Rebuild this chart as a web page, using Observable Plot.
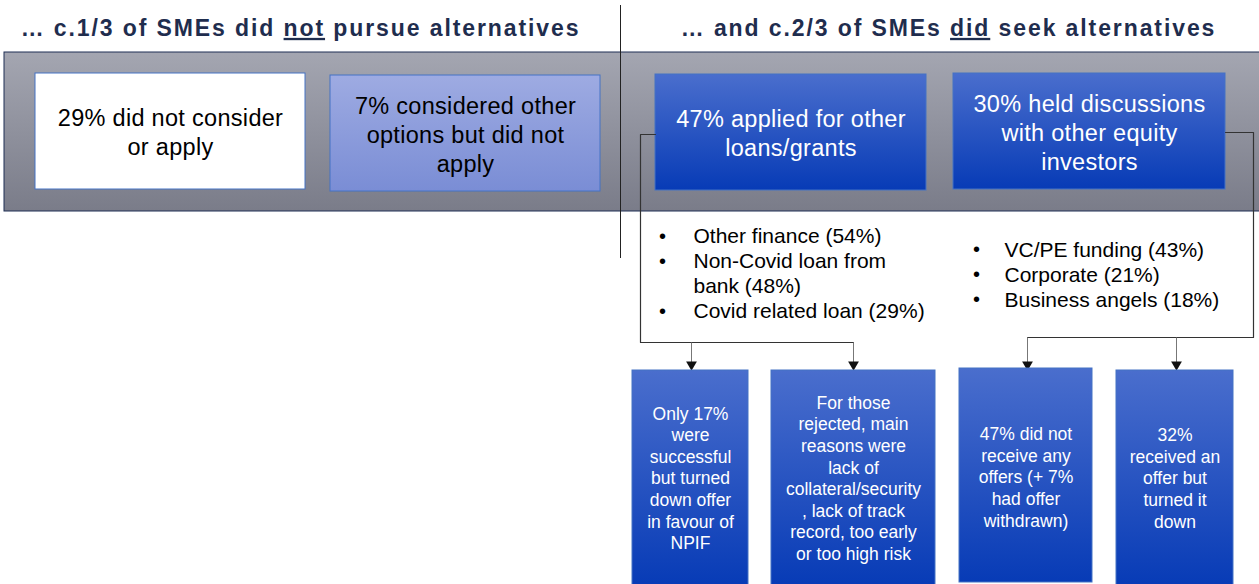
<!DOCTYPE html>
<html>
<head>
<meta charset="utf-8">
<script src="https://cdn.jsdelivr.net/npm/d3@7"></script>
<script src="https://cdn.jsdelivr.net/npm/@observablehq/plot@0.6"></script>
<style>
  html, body { margin: 0; padding: 0; background: #fff; }
  svg { display: block; }
</style>
</head>
<body>
<div id="chart"></div>
<script>
// ---------- content ----------
const titles = ["… c.1/3 of SMEs did not pursue alternatives", "… and c.2/3 of SMEs did seek alternatives"];
const underlined = ["not", "did"];
const topBoxes = [
  "29% did not consider\nor apply",
  "7% considered other\noptions but did not\napply",
  "47% applied for other\nloans/grants",
  "30% held discussions\nwith other equity\ninvestors"
];
const loanTypes = ["Other finance (54%)", "Non-Covid loan from\nbank (48%)", "Covid related loan (29%)"];
const equityTypes = ["VC/PE funding (43%)", "Corporate (21%)", "Business angels (18%)"];
const outcomes = [
  "Only 17%\nwere\nsuccessful\nbut turned\ndown offer\nin favour of\nNPIF",
  "For those\nrejected, main\nreasons were\nlack of\ncollateral/security\n, lack of track\nrecord, too early\nor too high risk",
  "47% did not\nreceive any\noffers (+ 7%\nhad offer\nwithdrawn)",
  "32%\nreceived an\noffer but\nturned it\ndown"
];

// ---------- layout (diagram geometry, separate from content) ----------
const W = 1259, H = 584;
const band = {x1: 4, x2: 1262, y1: 52, y2: 211};
const topRects = [
  {x1: 35, x2: 305, y1: 73, y2: 189, fill: "#ffffff", color: "#000"},
  {x1: 330, x2: 600, y1: 75, y2: 191, fill: "url(#gLight)", color: "#000"},
  {x1: 655, x2: 926, y1: 74, y2: 190, fill: "url(#gBlue)", color: "#fff"},
  {x1: 953, x2: 1225, y1: 73, y2: 189, fill: "url(#gBlue)", color: "#fff"}
];
const bottomRects = [
  {x1: 632, x2: 748, y1: 370, y2: 586},
  {x1: 771, x2: 935, y1: 370, y2: 586},
  {x1: 959, x2: 1092, y1: 368, y2: 582},
  {x1: 1116, x2: 1233, y1: 370, y2: 586}
];
const titlePos = [{x: 300, y: 28}, {x: 948, y: 28}];
const listPos = [{bx: 662, tx: 693, y0: 232.5}, {bx: 976, tx: 1004, y0: 246}];
const listStep = 25;
const brackets = [
  {pts: [[655, 134], [640, 134], [640, 342], [853, 342]], arrows: [691, 853], yTop: 342},
  {pts: [[1225, 132], [1253, 132], [1253, 337], [1027, 337]], arrows: [1027, 1176], yTop: 337}
];
const arrowTip = 366;

// ---------- derived mark data ----------
const topData = topBoxes.map((t, i) => ({...topRects[i], label: t, cx: (topRects[i].x1 + topRects[i].x2) / 2, cy: (topRects[i].y1 + topRects[i].y2) / 2}));
const botData = outcomes.map((t, i) => ({...bottomRects[i], label: t, cx: (bottomRects[i].x1 + bottomRects[i].x2) / 2, cy: (bottomRects[i].y1 + 584) / 2}));

function listRows(items, pos) {
  const rows = [];
  let line = 0;
  for (const it of items) {
    rows.push({bx: pos.bx, tx: pos.tx, y: pos.y0 + line * listStep, label: it});
    line += it.split("\n").length;
  }
  return rows;
}
const listData = [...listRows(loanTypes, listPos[0]), ...listRows(equityTypes, listPos[1])];

const linePts = brackets.flatMap((b, k) => b.pts.map(([x, y]) => ({x, y, k})));
const arrowData = brackets.flatMap(b => b.arrows.map(x => ({x, y1: b.yTop, y2: arrowTip - 4})));
const headData = brackets.flatMap(b => b.arrows.map(x => ({x, y: arrowTip - 2})));
const titleData = titles.map((t, i) => ({...titlePos[i], label: t}));

const font = "Arial, 'Liberation Sans', sans-serif";
const listFont = 21, bulletFont = 20, capHalf = 7.5;

const chart = Plot.plot({
  width: W, height: H, margin: 0,
  style: {fontFamily: font, background: "#fff"},
  x: {domain: [0, W], range: [0, W], axis: null},
  y: {domain: [0, H], range: [0, H], axis: null},
  marks: [
    Plot.rect([band], {x1: "x1", x2: "x2", y1: "y1", y2: "y2", fill: "url(#gBand)", stroke: "#1f2f55", strokeWidth: 1}),
    Plot.rect(topData, {x1: "x1", x2: "x2", y1: "y1", y2: "y2", fill: d => d.fill, stroke: "#4472c4", strokeWidth: 1}),
    Plot.text(topData, {x: "cx", y: "cy", text: "label", fill: d => d.color, fontSize: 23.5, lineHeight: 1.24, lineAnchor: "middle", className: "boxtxt"}),
    Plot.ruleX([620], {y1: 5, y2: 258, stroke: "#222", strokeWidth: 1}),
    Plot.line(linePts, {x: "x", y: "y", z: "k", stroke: "#333", strokeWidth: 1.2, curve: "linear"}),
    Plot.link(arrowData, {x1: "x", x2: "x", y1: "y1", y2: "y2", stroke: "#777", strokeWidth: 1}),
    Plot.dot(headData, {x: "x", y: "y", symbol: "triangle", r: 4, fill: "#111", stroke: null, rotate: 180}),
    Plot.text(listData, {x: "bx", y: "y", text: () => "•", fontSize: bulletFont, lineAnchor: "top", dy: capHalf + 2 - 0.71 * bulletFont, fill: "#000"}),
    Plot.text(listData, {x: "tx", y: "y", text: "label", fontSize: listFont, textAnchor: "start", lineAnchor: "top", dy: capHalf - 0.71 * listFont, lineHeight: listStep / listFont, fill: "#000"}),
    Plot.rect(botData, {x1: "x1", x2: "x2", y1: "y1", y2: "y2", fill: "url(#gBlue)", stroke: "#4472c4", strokeWidth: 1}),
    Plot.text(botData, {x: "cx", y: "cy", text: "label", fill: "#fff", fontSize: 17.5, lineHeight: 1.235, lineAnchor: "middle"}),
    Plot.text(titleData, {x: "x", y: "y", text: "label", fontSize: 23, fontWeight: "bold", fill: "#1f2d4e", lineAnchor: "middle", className: "ttl"})
  ]
});

// gradients
const defs = d3.create("svg:defs");
function grad(id, top, bottom) {
  const g = defs.append("linearGradient").attr("id", id).attr("x1", 0).attr("y1", 0).attr("x2", 0).attr("y2", 1);
  g.append("stop").attr("offset", "0%").attr("stop-color", top);
  g.append("stop").attr("offset", "100%").attr("stop-color", bottom);
}
grad("gBand", "#a4a6b1", "#7a7c89");
grad("gLight", "#9eabe2", "#7a8dd5");
grad("gBlue", "#4a6ecd", "#073bb6");
chart.insertBefore(defs.node(), chart.firstChild);

d3.select(chart).selectAll("g.boxtxt text").attr("letter-spacing", "0.3px");

// underline the emphasised word in each title
d3.select(chart).selectAll("g.ttl text").attr("letter-spacing", "1.9px").each(function(d, i) {
  const full = this.textContent;
  const word = underlined[i];
  const idx = full.indexOf(" " + word + " ") + 1;
  const sel = d3.select(this);
  sel.text(null);
  sel.append("tspan").text(full.slice(0, idx));
  sel.append("tspan").style("text-decoration", "underline").text(word);
  sel.append("tspan").text(full.slice(idx + word.length));
});

document.getElementById("chart").appendChild(chart);
</script>
</body>
</html>
